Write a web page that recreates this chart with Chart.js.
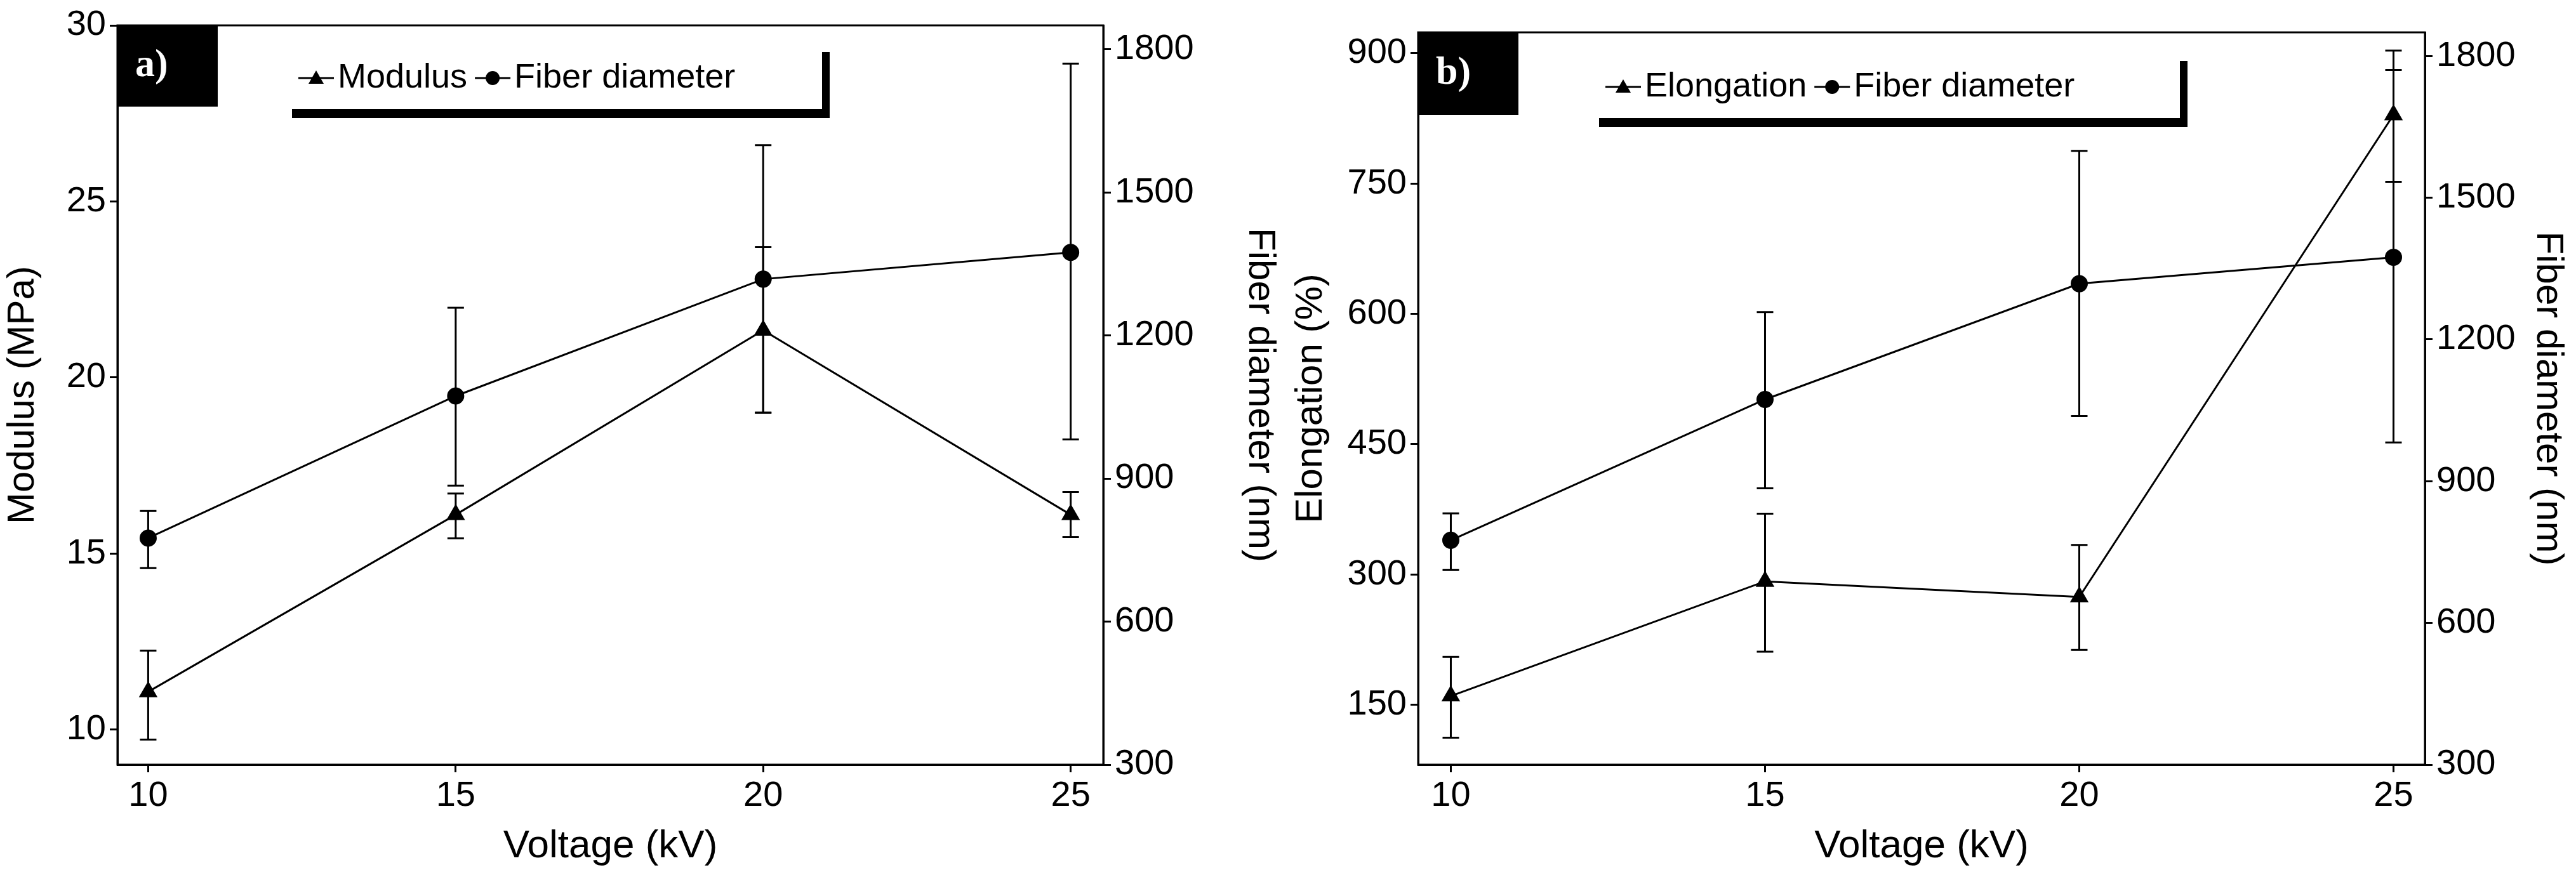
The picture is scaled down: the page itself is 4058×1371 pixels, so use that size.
<!DOCTYPE html>
<html>
<head>
<meta charset="utf-8">
<script src="https://cdn.jsdelivr.net/npm/chart.js@4.4.1/dist/chart.umd.min.js"></script>
<style>
  body { margin: 0; background: #fff; }
  .wrap { position: absolute; top: 0; width: 2029px; height: 1371px; }
  #wa { left: 0; }
  #wb { left: 2029px; }
</style>
</head>
<body>
<div class="wrap" id="wa"><canvas id="ca"></canvas></div>
<div class="wrap" id="wb"><canvas id="cb"></canvas></div>
<script>
const voltage = [10, 15, 20, 25];
const xTicks = [10, 15, 20, 25];

const modulus = [11.07, 16.1, 21.34, 16.1];
const modulusLow = [9.71, 15.43, 19.0, 15.46];
const modulusHigh = [12.24, 16.7, 23.7, 16.74];

const elongation = [160, 292, 274, 829];
const elongationLow = [112, 211, 213, 752];
const elongationHigh = [205, 370, 334, 903];

const fiber = [775, 1073, 1318, 1374];
const fiberLow = [712, 885, 1038, 982];
const fiberHigh = [832, 1258, 1599, 1770];

const FONT = "'Liberation Sans', Arial, sans-serif";

const errorBars = {
  id: "errorBars",
  afterDatasetsDraw(chart) {
    const ctx = chart.ctx;
    ctx.save();
    ctx.strokeStyle = "#000";
    ctx.lineWidth = 3;
    chart.data.datasets.forEach(ds => {
      const ys = chart.scales[ds.yAxisID];
      const xs = chart.scales.x;
      ds.data.forEach((p, i) => {
        const x = xs.getPixelForValue(p.x);
        const y1 = ys.getPixelForValue(ds.low[i]);
        const y2 = ys.getPixelForValue(ds.high[i]);
        ctx.beginPath();
        ctx.moveTo(x, y1); ctx.lineTo(x, y2);
        ctx.moveTo(x - 13, y1); ctx.lineTo(x + 13, y1);
        ctx.moveTo(x - 13, y2); ctx.lineTo(x + 13, y2);
        ctx.stroke();
      });
    });
    ctx.restore();
  }
};

const decor = {
  id: "decor",
  afterDraw(chart) {
    const o = chart.options.plugins.decor;
    const ctx = chart.ctx;
    const a = chart.chartArea;
    ctx.save();
    // frame
    ctx.strokeStyle = "#000";
    ctx.lineWidth = 3;
    ctx.strokeRect(a.left, a.top, a.right - a.left, a.bottom - a.top);
    // panel label
    ctx.fillStyle = "#000";
    ctx.fillRect(o.label.x, o.label.y, o.label.w, o.label.h);
    ctx.fillStyle = "#fff";
    ctx.font = "bold 62px 'Liberation Serif', serif";
    ctx.textBaseline = "middle";
    ctx.fillText(o.label.text, o.label.x + 28, o.label.y + o.label.h / 2);
    // legend
    const L = o.legend;
    ctx.fillStyle = "#000";
    ctx.fillRect(L.x, L.y + L.h, L.w + 12, 14);
    ctx.fillRect(L.x + L.w, L.y, 12, L.h + 14);
    ctx.font = "54px " + FONT;
    ctx.textBaseline = "middle";
    const cy = L.y + L.h / 2 - 4;
    let x = L.x + 10;
    L.items.forEach(it => {
      ctx.strokeStyle = "#000";
      ctx.lineWidth = 3;
      ctx.beginPath(); ctx.moveTo(x, cy); ctx.lineTo(x + 56, cy); ctx.stroke();
      ctx.fillStyle = "#000";
      ctx.beginPath();
      if (it.shape === "triangle") {
        ctx.moveTo(x + 28, cy - 12); ctx.lineTo(x + 40, cy + 9); ctx.lineTo(x + 16, cy + 9); ctx.closePath();
      } else {
        ctx.arc(x + 28, cy, 11, 0, Math.PI * 2);
      }
      ctx.fill();
      ctx.fillText(it.text, x + 62, cy);
      x += 62 + ctx.measureText(it.text).width + 12;
    });
    ctx.restore();
  }
};

function makeChart(id, cfg) {
  const fit = w => axis => { axis.width = w; };
  const tickFont = { family: FONT, size: 56 };
  return new Chart(document.getElementById(id), {
    type: "line",
    data: {
      datasets: [
        {
          label: cfg.name, data: voltage.map((v, i) => ({ x: v, y: cfg.values[i] })),
          low: cfg.low, high: cfg.high, yAxisID: "y",
          borderColor: "#000", backgroundColor: "#000", borderWidth: 3,
          pointStyle: "triangle", pointRadius: 14, tension: 0
        },
        {
          label: "Fiber diameter", data: voltage.map((v, i) => ({ x: v, y: fiber[i] })),
          low: fiberLow, high: fiberHigh, yAxisID: "y2",
          borderColor: "#000", backgroundColor: "#000", borderWidth: 3,
          pointStyle: "circle", pointRadius: 12, tension: 0
        }
      ]
    },
    options: {
      responsive: true, maintainAspectRatio: false, animation: false,
      layout: { padding: { top: cfg.top, left: 0, right: 0, bottom: 0 } },
      plugins: {
        legend: { display: false }, tooltip: { enabled: false },
        decor: { label: cfg.label, legend: cfg.legend }
      },
      scales: {
        x: {
          type: "linear", min: cfg.xmin, max: cfg.xmax,
          afterBuildTicks: a => { a.ticks = xTicks.map(v => ({ value: v })); },
          afterFit: a => { a.height = 166; },
          border: { color: "#000", width: 3 },
          grid: { drawOnChartArea: false, color: "#000", tickLength: 12, lineWidth: 3 },
          ticks: { color: "#000", font: tickFont, padding: 4 },
          title: { display: true, text: "Voltage (kV)", color: "#000", font: { family: FONT, size: 62 }, padding: 0 }
        },
        y: {
          position: "left", min: cfg.ymin, max: cfg.ymax,
          afterBuildTicks: a => { a.ticks = cfg.yTicks.map(v => ({ value: v })); },
          afterFit: fit(cfg.left),
          border: { color: "#000", width: 3 },
          grid: { drawOnChartArea: false, color: "#000", tickLength: 12, lineWidth: 3 },
          ticks: { color: "#000", font: tickFont, padding: 6 },
          title: { display: true, text: cfg.yTitle, color: "#000", font: { family: FONT, size: 60 }, padding: 0 }
        },
        y2: {
          position: "right", min: 300, max: 1850,
          afterBuildTicks: a => { a.ticks = [300, 600, 900, 1200, 1500, 1800].map(v => ({ value: v })); },
          afterFit: fit(cfg.right),
          border: { color: "#000", width: 3 },
          grid: { drawOnChartArea: false, color: "#000", tickLength: 12, lineWidth: 3 },
          ticks: { color: "#000", font: tickFont, padding: 6, callback: v => String(v) },
          title: { display: true, text: "Fiber diameter (nm)", color: "#000", font: { family: FONT, size: 60 }, padding: 8 }
        }
      }
    },
    plugins: [errorBars, decor]
  });
}

makeChart("ca", {
  name: "Modulus", values: modulus, low: modulusLow, high: modulusHigh,
  ymin: 9, ymax: 30, yTicks: [10, 15, 20, 25, 30], yTitle: "Modulus (MPa)",
  xmin: 9.5, xmax: 25.53, top: 40, left: 185, right: 291,
  label: { x: 185, y: 40, w: 158, h: 128, text: "a)" },
  legend: { x: 460, y: 82, w: 835, h: 90, items: [{ shape: "triangle", text: "Modulus" }, { shape: "circle", text: "Fiber diameter" }] }
});

makeChart("cb", {
  name: "Elongation", values: elongation, low: elongationLow, high: elongationHigh,
  ymin: 81, ymax: 924, yTicks: [150, 300, 450, 600, 750, 900], yTitle: "Elongation (%)",
  xmin: 9.48, xmax: 25.5, top: 51, left: 205, right: 238,
  label: { x: 205, y: 51, w: 158, h: 130, text: "b)" },
  legend: { x: 490, y: 96, w: 915, h: 90, items: [{ shape: "triangle", text: "Elongation" }, { shape: "circle", text: "Fiber diameter" }] }
});
</script>
</body>
</html>
